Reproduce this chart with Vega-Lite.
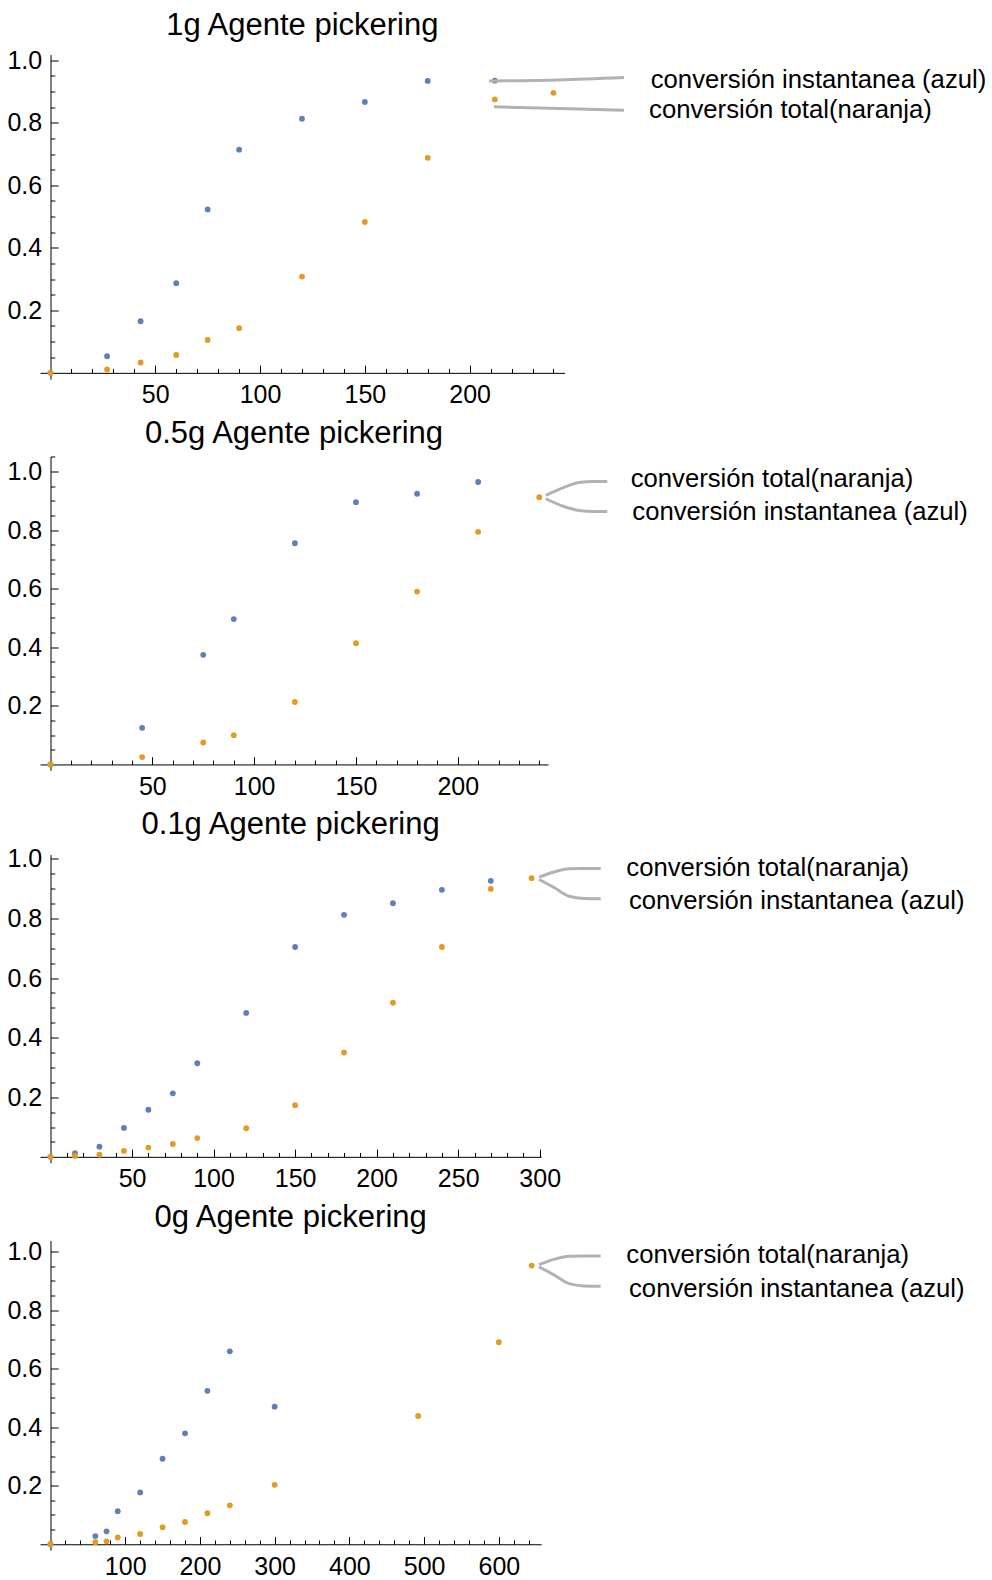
{
  "$schema": "https://vega.github.io/schema/vega-lite/v6.json",
  "padding": {"left": 6, "top": 9.5, "right": 5, "bottom": 5},
  "background": "white",
  "config": {
    "view": {"stroke": null},
    "font": "Liberation Sans",
    "axis": {"grid": false, "title": null, "domainColor": "#000", "tickColor": "#000", "labelColor": "#000", "labelFont": "Liberation Sans", "labelFontSize": 25, "labelFlush": false, "labelOverlap": false, "labelBound": false, "tickWidth": 1, "domainWidth": 1}
  },
  "datasets": {
    "p1": [
      {"t": 0, "conv": 0, "serie": "azul"}, {"t": 27, "conv": 0.053, "serie": "azul"}, {"t": 43, "conv": 0.165, "serie": "azul"}, {"t": 60, "conv": 0.287, "serie": "azul"}, {"t": 75, "conv": 0.523, "serie": "azul"}, {"t": 90, "conv": 0.714, "serie": "azul"}, {"t": 120, "conv": 0.813, "serie": "azul"}, {"t": 150, "conv": 0.867, "serie": "azul"}, {"t": 180, "conv": 0.934, "serie": "azul"}, {"t": 212, "conv": 0.935, "serie": "azul"},
      {"t": 0, "conv": 0, "serie": "naranja"}, {"t": 27, "conv": 0.011, "serie": "naranja"}, {"t": 43, "conv": 0.033, "serie": "naranja"}, {"t": 60, "conv": 0.057, "serie": "naranja"}, {"t": 75, "conv": 0.105, "serie": "naranja"}, {"t": 90, "conv": 0.143, "serie": "naranja"}, {"t": 120, "conv": 0.308, "serie": "naranja"}, {"t": 150, "conv": 0.483, "serie": "naranja"}, {"t": 180, "conv": 0.688, "serie": "naranja"}, {"t": 212, "conv": 0.875, "serie": "naranja"}, {"t": 240, "conv": 0.896, "serie": "naranja"}
    ],
    "p2": [
      {"t": 0, "conv": 0, "serie": "azul"}, {"t": 45, "conv": 0.125, "serie": "azul"}, {"t": 75, "conv": 0.374, "serie": "azul"}, {"t": 90, "conv": 0.496, "serie": "azul"}, {"t": 120, "conv": 0.755, "serie": "azul"}, {"t": 150, "conv": 0.895, "serie": "azul"}, {"t": 180, "conv": 0.924, "serie": "azul"}, {"t": 210, "conv": 0.964, "serie": "azul"},
      {"t": 0, "conv": 0, "serie": "naranja"}, {"t": 45, "conv": 0.025, "serie": "naranja"}, {"t": 75, "conv": 0.075, "serie": "naranja"}, {"t": 90, "conv": 0.1, "serie": "naranja"}, {"t": 120, "conv": 0.213, "serie": "naranja"}, {"t": 150, "conv": 0.414, "serie": "naranja"}, {"t": 180, "conv": 0.59, "serie": "naranja"}, {"t": 210, "conv": 0.794, "serie": "naranja"}, {"t": 240, "conv": 0.912, "serie": "naranja"}
    ],
    "p3": [
      {"t": 0, "conv": 0, "serie": "azul"}, {"t": 15, "conv": 0.012, "serie": "azul"}, {"t": 30, "conv": 0.034, "serie": "azul"}, {"t": 45, "conv": 0.097, "serie": "azul"}, {"t": 60, "conv": 0.158, "serie": "azul"}, {"t": 75, "conv": 0.213, "serie": "azul"}, {"t": 90, "conv": 0.314, "serie": "azul"}, {"t": 120, "conv": 0.483, "serie": "azul"}, {"t": 150, "conv": 0.704, "serie": "azul"}, {"t": 180, "conv": 0.812, "serie": "azul"}, {"t": 210, "conv": 0.851, "serie": "azul"}, {"t": 240, "conv": 0.896, "serie": "azul"}, {"t": 270, "conv": 0.926, "serie": "azul"},
      {"t": 0, "conv": 0, "serie": "naranja"}, {"t": 15, "conv": 0.003, "serie": "naranja"}, {"t": 30, "conv": 0.007, "serie": "naranja"}, {"t": 45, "conv": 0.02, "serie": "naranja"}, {"t": 60, "conv": 0.031, "serie": "naranja"}, {"t": 75, "conv": 0.043, "serie": "naranja"}, {"t": 90, "conv": 0.063, "serie": "naranja"}, {"t": 120, "conv": 0.096, "serie": "naranja"}, {"t": 150, "conv": 0.173, "serie": "naranja"}, {"t": 180, "conv": 0.35, "serie": "naranja"}, {"t": 210, "conv": 0.517, "serie": "naranja"}, {"t": 240, "conv": 0.704, "serie": "naranja"}, {"t": 270, "conv": 0.899, "serie": "naranja"}, {"t": 295, "conv": 0.935, "serie": "naranja"}
    ],
    "p4": [
      {"t": 0, "conv": 0, "serie": "azul"}, {"t": 60, "conv": 0.028, "serie": "azul"}, {"t": 75, "conv": 0.044, "serie": "azul"}, {"t": 90, "conv": 0.113, "serie": "azul"}, {"t": 120, "conv": 0.177, "serie": "azul"}, {"t": 150, "conv": 0.292, "serie": "azul"}, {"t": 180, "conv": 0.379, "serie": "azul"}, {"t": 210, "conv": 0.524, "serie": "azul"}, {"t": 240, "conv": 0.659, "serie": "azul"}, {"t": 300, "conv": 0.47, "serie": "azul"},
      {"t": 0, "conv": 0, "serie": "naranja"}, {"t": 60, "conv": 0.007, "serie": "naranja"}, {"t": 75, "conv": 0.01, "serie": "naranja"}, {"t": 90, "conv": 0.023, "serie": "naranja"}, {"t": 120, "conv": 0.035, "serie": "naranja"}, {"t": 150, "conv": 0.058, "serie": "naranja"}, {"t": 180, "conv": 0.076, "serie": "naranja"}, {"t": 210, "conv": 0.106, "serie": "naranja"}, {"t": 240, "conv": 0.133, "serie": "naranja"}, {"t": 300, "conv": 0.203, "serie": "naranja"}, {"t": 492, "conv": 0.438, "serie": "naranja"}, {"t": 600, "conv": 0.69, "serie": "naranja"}, {"t": 644, "conv": 0.952, "serie": "naranja"}
    ],
    "c1": [
      {"linea": "azul", "t": 209.2, "conv": 0.9338}, {"linea": "azul", "t": 242.6, "conv": 0.937}, {"linea": "azul", "t": 273.6, "conv": 0.945},
      {"linea": "naranja", "t": 211.6, "conv": 0.8512}, {"linea": "naranja", "t": 242.6, "conv": 0.8458}, {"linea": "naranja", "t": 273.6, "conv": 0.8403}
    ],
    "c2": [
      {"linea": "arriba", "t": 243.2, "conv": 0.918}, {"linea": "arriba", "t": 252.1, "conv": 0.9454}, {"linea": "arriba", "t": 259.5, "conv": 0.9625}, {"linea": "arriba", "t": 266.9, "conv": 0.9659}, {"linea": "arriba", "t": 273.4, "conv": 0.9659},
      {"linea": "abajo", "t": 243.2, "conv": 0.9068}, {"linea": "abajo", "t": 252.1, "conv": 0.8805}, {"linea": "abajo", "t": 259.5, "conv": 0.8669}, {"linea": "abajo", "t": 266.9, "conv": 0.8635}, {"linea": "abajo", "t": 273.4, "conv": 0.8635}
    ],
    "c3": [
      {"linea": "arriba", "t": 299.6, "conv": 0.9383}, {"linea": "arriba", "t": 308.8, "conv": 0.9557}, {"linea": "arriba", "t": 318.0, "conv": 0.9664}, {"linea": "arriba", "t": 327.2, "conv": 0.9674}, {"linea": "arriba", "t": 337.4, "conv": 0.9674},
      {"linea": "abajo", "t": 299.6, "conv": 0.9305}, {"linea": "abajo", "t": 308.8, "conv": 0.9037}, {"linea": "abajo", "t": 318.0, "conv": 0.8745}, {"linea": "abajo", "t": 327.2, "conv": 0.8668}, {"linea": "abajo", "t": 337.4, "conv": 0.8658}
    ],
    "c4": [
      {"linea": "arriba", "t": 653.8, "conv": 0.9552}, {"linea": "arriba", "t": 673.8, "conv": 0.973}, {"linea": "arriba", "t": 693.9, "conv": 0.984}, {"linea": "arriba", "t": 714.0, "conv": 0.985}, {"linea": "arriba", "t": 736.3, "conv": 0.985},
      {"linea": "abajo", "t": 653.8, "conv": 0.9474}, {"linea": "abajo", "t": 673.8, "conv": 0.92}, {"linea": "abajo", "t": 693.9, "conv": 0.8903}, {"linea": "abajo", "t": 714.0, "conv": 0.8825}, {"linea": "abajo", "t": 736.3, "conv": 0.8815}
    ],
    "l1": [
      {"texto": "conversión instantanea (azul)", "t": 286.4, "conv": 0.9386},
      {"texto": "conversión total(naranja)", "t": 285.6, "conv": 0.8426}
    ],
    "l2": [
      {"texto": "conversión total(naranja)", "t": 284.9, "conv": 0.975},
      {"texto": "conversión instantanea (azul)", "t": 285.7, "conv": 0.861}
    ],
    "l3": [
      {"texto": "conversión total(naranja)", "t": 353.1, "conv": 0.9698},
      {"texto": "conversión instantanea (azul)", "t": 354.7, "conv": 0.8577}
    ],
    "l4": [
      {"texto": "conversión total(naranja)", "t": 770.6, "conv": 0.9874},
      {"texto": "conversión instantanea (azul)", "t": 774.2, "conv": 0.8733}
    ]
  },
  "spacing": 9,
  "vconcat": [
    {
      "width": 524.6, "height": 324.6,
      "title": {"text": "1g Agente pickering", "fontSize": 31, "font": "Liberation Sans", "fontWeight": "normal", "color": "#000", "anchor": "middle", "frame": "group", "baseline": "alphabetic", "offset": -17.2},
      "resolve": {"axis": {"x": "independent", "y": "independent"}},
      "layer": [
        {"data": {"name": "p1"}, "mark": {"type": "point", "filled": true, "size": 34, "opacity": 1},
         "encoding": {
           "x": {"field": "t", "type": "quantitative", "scale": {"domain": [-5.0, 245.3], "nice": false, "zero": false}, "axis": {"values": [50, 100, 150, 200], "tickSize": -7.7, "labelPadding": 17.7, "offset": -6.25, "orient": "bottom"}},
           "y": {"field": "conv", "type": "quantitative", "scale": {"domain": [-0.02, 1.0186], "nice": false, "zero": false}, "axis": {"values": [0.2, 0.4, 0.6, 0.8, 1.0], "format": ".1f", "tickSize": -7.7, "labelPadding": 16.5, "offset": -10.5, "orient": "left"}},
           "color": {"field": "serie", "type": "nominal", "scale": {"domain": ["azul", "naranja"], "range": ["#5E81B5", "#E19C24"]}, "legend": null}
         }},
        {"data": {"name": "c1"}, "mark": {"type": "line", "interpolate": "monotone", "color": "#b2b2b2", "strokeWidth": 3},
         "encoding": {
           "x": {"field": "t", "type": "quantitative", "scale": {"domain": [-5.0, 245.3], "nice": false, "zero": false}, "axis": {"values": [10,20,30,40,60,70,80,90,110,120,130,140,160,170,180,190,210,220,230,240], "tickSize": -4.3, "labels": false, "domain": false, "offset": -6.25, "orient": "bottom"}},
           "y": {"field": "conv", "type": "quantitative", "scale": {"domain": [-0.02, 1.0186], "nice": false, "zero": false}, "axis": {"values": [0.05,0.1,0.15,0.25,0.3,0.35,0.45,0.5,0.55,0.65,0.7,0.75,0.85,0.9,0.95], "tickSize": -4.3, "labels": false, "domain": false, "offset": -10.5, "orient": "left"}},
           "detail": {"field": "linea", "type": "nominal"}
         }},
        {"data": {"name": "l1"}, "mark": {"type": "text", "align": "left", "baseline": "middle", "fontSize": 25.7, "font": "Liberation Sans", "color": "#000"},
         "encoding": {
           "x": {"field": "t", "type": "quantitative", "scale": {"domain": [-5.0, 245.3], "nice": false, "zero": false}, "axis": null},
           "y": {"field": "conv", "type": "quantitative", "scale": {"domain": [-0.02, 1.0186], "nice": false, "zero": false}, "axis": null},
           "text": {"field": "texto", "type": "nominal"}
         }}
      ]
    },
    {
      "width": 508.0, "height": 313.8,
      "title": {"text": "0.5g Agente pickering", "fontSize": 31, "font": "Liberation Sans", "fontWeight": "normal", "color": "#000", "anchor": "middle", "frame": "group", "baseline": "alphabetic", "offset": -17.6},
      "resolve": {"axis": {"x": "independent", "y": "independent"}},
      "layer": [
        {"data": {"name": "p2"}, "mark": {"type": "point", "filled": true, "size": 34, "opacity": 1},
         "encoding": {
           "x": {"field": "t", "type": "quantitative", "scale": {"domain": [-5.16, 244.3], "nice": false, "zero": false}, "axis": {"values": [50, 100, 150, 200], "tickSize": -7.7, "labelPadding": 17.7, "offset": -5.86, "orient": "bottom"}},
           "y": {"field": "conv", "type": "quantitative", "scale": {"domain": [-0.02, 1.051], "nice": false, "zero": false}, "axis": {"values": [0.2, 0.4, 0.6, 0.8, 1.0], "format": ".1f", "tickSize": -7.7, "labelPadding": 16.5, "offset": -10.5, "orient": "left"}},
           "color": {"field": "serie", "type": "nominal", "scale": {"domain": ["azul", "naranja"], "range": ["#5E81B5", "#E19C24"]}, "legend": null}
         }},
        {"data": {"name": "c2"}, "mark": {"type": "line", "interpolate": "monotone", "color": "#b2b2b2", "strokeWidth": 3},
         "encoding": {
           "x": {"field": "t", "type": "quantitative", "scale": {"domain": [-5.16, 244.3], "nice": false, "zero": false}, "axis": {"values": [10,20,30,40,60,70,80,90,110,120,130,140,160,170,180,190,210,220,230,240], "tickSize": -4.3, "labels": false, "domain": false, "offset": -5.86, "orient": "bottom"}},
           "y": {"field": "conv", "type": "quantitative", "scale": {"domain": [-0.02, 1.051], "nice": false, "zero": false}, "axis": {"values": [0.05,0.1,0.15,0.25,0.3,0.35,0.45,0.5,0.55,0.65,0.7,0.75,0.85,0.9,0.95,1.05], "tickSize": -4.3, "labels": false, "domain": false, "offset": -10.5, "orient": "left"}},
           "detail": {"field": "linea", "type": "nominal"}
         }},
        {"data": {"name": "l2"}, "mark": {"type": "text", "align": "left", "baseline": "middle", "fontSize": 25.7, "font": "Liberation Sans", "color": "#000"},
         "encoding": {
           "x": {"field": "t", "type": "quantitative", "scale": {"domain": [-5.16, 244.3], "nice": false, "zero": false}, "axis": null},
           "y": {"field": "conv", "type": "quantitative", "scale": {"domain": [-0.02, 1.051], "nice": false, "zero": false}, "axis": null},
           "text": {"field": "texto", "type": "nominal"}
         }}
      ]
    },
    {
      "width": 501.2, "height": 308.3,
      "title": {"text": "0.1g Agente pickering", "fontSize": 31, "font": "Liberation Sans", "fontWeight": "normal", "color": "#000", "anchor": "middle", "frame": "group", "baseline": "alphabetic", "offset": -17.8},
      "resolve": {"axis": {"x": "independent", "y": "independent"}},
      "layer": [
        {"data": {"name": "p3"}, "mark": {"type": "point", "filled": true, "size": 34, "opacity": 1},
         "encoding": {
           "x": {"field": "t", "type": "quantitative", "scale": {"domain": [-6.44, 300.9], "nice": false, "zero": false}, "axis": {"values": [50, 100, 150, 200, 250, 300], "tickSize": -7.7, "labelPadding": 17.7, "offset": -5.96, "orient": "bottom"}},
           "y": {"field": "conv", "type": "quantitative", "scale": {"domain": [-0.02, 1.0145], "nice": false, "zero": false}, "axis": {"values": [0.2, 0.4, 0.6, 0.8, 1.0], "format": ".1f", "tickSize": -7.7, "labelPadding": 16.5, "offset": -10.5, "orient": "left"}},
           "color": {"field": "serie", "type": "nominal", "scale": {"domain": ["azul", "naranja"], "range": ["#5E81B5", "#E19C24"]}, "legend": null}
         }},
        {"data": {"name": "c3"}, "mark": {"type": "line", "interpolate": "monotone", "color": "#b2b2b2", "strokeWidth": 3},
         "encoding": {
           "x": {"field": "t", "type": "quantitative", "scale": {"domain": [-6.44, 300.9], "nice": false, "zero": false}, "axis": {"values": [10,20,30,40,60,70,80,90,110,120,130,140,160,170,180,190,210,220,230,240,260,270,280,290], "tickSize": -4.3, "labels": false, "domain": false, "offset": -5.96, "orient": "bottom"}},
           "y": {"field": "conv", "type": "quantitative", "scale": {"domain": [-0.02, 1.0145], "nice": false, "zero": false}, "axis": {"values": [0.05,0.1,0.15,0.25,0.3,0.35,0.45,0.5,0.55,0.65,0.7,0.75,0.85,0.9,0.95], "tickSize": -4.3, "labels": false, "domain": false, "offset": -10.5, "orient": "left"}},
           "detail": {"field": "linea", "type": "nominal"}
         }},
        {"data": {"name": "l3"}, "mark": {"type": "text", "align": "left", "baseline": "middle", "fontSize": 25.7, "font": "Liberation Sans", "color": "#000"},
         "encoding": {
           "x": {"field": "t", "type": "quantitative", "scale": {"domain": [-6.44, 300.9], "nice": false, "zero": false}, "axis": null},
           "y": {"field": "conv", "type": "quantitative", "scale": {"domain": [-0.02, 1.0145], "nice": false, "zero": false}, "axis": null},
           "text": {"field": "texto", "type": "nominal"}
         }}
      ]
    },
    {
      "width": 501.2, "height": 309.6,
      "title": {"text": "0g Agente pickering", "fontSize": 31, "font": "Liberation Sans", "fontWeight": "normal", "color": "#000", "anchor": "middle", "frame": "group", "baseline": "alphabetic", "offset": -18.4},
      "resolve": {"axis": {"x": "independent", "y": "independent"}},
      "layer": [
        {"data": {"name": "p4"}, "mark": {"type": "point", "filled": true, "size": 34, "opacity": 1},
         "encoding": {
           "x": {"field": "t", "type": "quantitative", "scale": {"domain": [-14.05, 656.7], "nice": false, "zero": false}, "axis": {"values": [100, 200, 300, 400, 500, 600], "tickSize": -7.7, "labelPadding": 17.7, "offset": -5.85, "orient": "bottom"}},
           "y": {"field": "conv", "type": "quantitative", "scale": {"domain": [-0.02, 1.0376], "nice": false, "zero": false}, "axis": {"values": [0.2, 0.4, 0.6, 0.8, 1.0], "format": ".1f", "tickSize": -7.7, "labelPadding": 16.5, "offset": -10.5, "orient": "left"}},
           "color": {"field": "serie", "type": "nominal", "scale": {"domain": ["azul", "naranja"], "range": ["#5E81B5", "#E19C24"]}, "legend": null}
         }},
        {"data": {"name": "c4"}, "mark": {"type": "line", "interpolate": "monotone", "color": "#b2b2b2", "strokeWidth": 3},
         "encoding": {
           "x": {"field": "t", "type": "quantitative", "scale": {"domain": [-14.05, 656.7], "nice": false, "zero": false}, "axis": {"values": [20,40,60,80,120,140,160,180,220,240,260,280,320,340,360,380,420,440,460,480,520,540,560,580,620,640], "tickSize": -4.3, "labels": false, "domain": false, "offset": -5.85, "orient": "bottom"}},
           "y": {"field": "conv", "type": "quantitative", "scale": {"domain": [-0.02, 1.0376], "nice": false, "zero": false}, "axis": {"values": [0.05,0.1,0.15,0.25,0.3,0.35,0.45,0.5,0.55,0.65,0.7,0.75,0.85,0.9,0.95], "tickSize": -4.3, "labels": false, "domain": false, "offset": -10.5, "orient": "left"}},
           "detail": {"field": "linea", "type": "nominal"}
         }},
        {"data": {"name": "l4"}, "mark": {"type": "text", "align": "left", "baseline": "middle", "fontSize": 25.7, "font": "Liberation Sans", "color": "#000"},
         "encoding": {
           "x": {"field": "t", "type": "quantitative", "scale": {"domain": [-14.05, 656.7], "nice": false, "zero": false}, "axis": null},
           "y": {"field": "conv", "type": "quantitative", "scale": {"domain": [-0.02, 1.0376], "nice": false, "zero": false}, "axis": null},
           "text": {"field": "texto", "type": "nominal"}
         }}
      ]
    }
  ]
}
